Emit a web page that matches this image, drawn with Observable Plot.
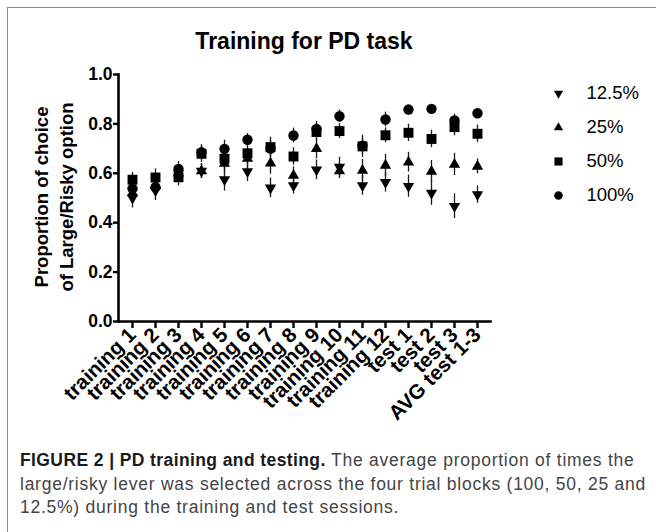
<!DOCTYPE html>
<html>
<head>
<meta charset="utf-8">
<script src="https://cdn.jsdelivr.net/npm/d3@7"></script>
<script src="https://cdn.jsdelivr.net/npm/@observablehq/plot@0.6"></script>
<style>
  html, body { margin: 0; padding: 0; background: #fff; }
  #fig { position: relative; width: 656px; height: 532px; background: #fff; overflow: hidden; font-family: "Liberation Sans", Arial, sans-serif; }
  #frame { position: absolute; left: 7px; top: 7px; right: -5px; bottom: -5px; border-left: 1.5px solid #8c8c8c; border-top: 1.5px solid #8c8c8c; }
  #title { position: absolute; left: 118px; width: 372px; top: 28px; text-align: center; font-weight: bold; font-size: 23px; color: #000; }
  #chart { position: absolute; left: 0; top: 0; }
  #legend { position: absolute; left: 540px; top: 75px; }
  #ylabel { position: absolute; left: -71px; top: 172px; width: 250px; height: 50px; transform: rotate(-90deg); text-align: center; font-weight: bold; font-size: 18.5px; line-height: 25px; color: #000; }
  #caption { position: absolute; left: 20px; top: 449px; width: 640px; font-size: 17.5px; letter-spacing: 0.75px; line-height: 23.5px; color: #444; white-space: nowrap; }
  #caption b { color: #1a1a1a; letter-spacing: 0.4px; }
</style>
</head>
<body>
<div id="fig">
  <div id="frame"></div>
  <div id="title">Training for PD task</div>
  <div id="chart"></div>
  <div id="ylabel">Proportion of choice<br>of Large/Risky option</div>
  <div id="legend"></div>
  <div id="caption"><b>FIGURE 2 | PD training and testing.</b> The average proportion of times the<br>large/risky lever was selected across the four trial blocks (100, 50, 25 and<br>12.5%) during the training and test sessions.</div>
</div>
<script>
const categories = ["training 1","training 2","training 3","training 4","training 5","training 6","training 7","training 8","training 9","training 10","training 11","training 12","test 1","test 2","test 3","AVG test 1-3"];
const seriesNames = ["12.5%","25%","50%","100%"];
const yTicks = [0, 0.2, 0.4, 0.6, 0.8, 1.0];

const mean12_5 = [0.50, 0.53, 0.60, 0.609, 0.575, 0.607, 0.541, 0.551, 0.614, 0.625, 0.551, 0.564, 0.548, 0.52, 0.467, 0.514];
const mean25   = [0.52, 0.55, 0.60, 0.609, 0.64, 0.66, 0.641, 0.591, 0.699, 0.609, 0.611, 0.632, 0.645, 0.607, 0.636, 0.628];
const mean50   = [0.574, 0.583, 0.584, 0.679, 0.659, 0.681, 0.706, 0.668, 0.767, 0.771, 0.709, 0.754, 0.764, 0.739, 0.787, 0.76];
const mean100  = [0.538, 0.544, 0.618, 0.685, 0.699, 0.736, 0.70, 0.753, 0.78, 0.831, 0.712, 0.818, 0.858, 0.861, 0.814, 0.843];

const err12_5 = [0.04, 0.04, 0.03, 0.03, 0.047, 0.04, 0.04, 0.035, 0.04, 0.04, 0.04, 0.04, 0.045, 0.05, 0.05, 0.035];
const err25   = [0.035, 0.035, 0.03, 0.03, 0.04, 0.04, 0.045, 0.035, 0.04, 0.03, 0.045, 0.045, 0.04, 0.045, 0.045, 0.03];
const err50   = [0.03, 0.035, 0.035, 0.035, 0.04, 0.035, 0.04, 0.035, 0.035, 0.03, 0.045, 0.03, 0.035, 0.035, 0.035, 0.035];
const err100  = [0.025, 0.03, 0.03, 0.03, 0.035, 0.025, 0.03, 0.03, 0.03, 0.025, 0.03, 0.03, 0.015, 0.015, 0.025, 0.02];

const seriesMeans = [mean12_5, mean25, mean50, mean100];
const seriesErrs = [err12_5, err25, err50, err100];
const symbols = ["triangle", "triangle", "square", "circle"];
const rotations = [180, 0, 0, 0];
const radii = [4.2, 4.2, 5.6, 5.2];

const rows = [];
seriesNames.forEach((s, si) => {
  categories.forEach((c, ci) => {
    rows.push({cat: c, series: s, si, value: seriesMeans[si][ci], err: seriesErrs[si][ci]});
  });
});

const font = "Liberation Sans, Arial, sans-serif";

const chart = Plot.plot({
  width: 656,
  height: 445,
  marginLeft: 118,
  marginRight: 166,
  marginTop: 74,
  marginBottom: 124,
  style: {fontFamily: font, fontWeight: "bold", color: "#000", background: "transparent", overflow: "visible"},
  x: {type: "point", domain: categories, padding: 0.56},
  y: {domain: [0, 1]},
  marks: [
    Plot.ruleX(rows, {x: "cat", y1: d => d.value - d.err, y2: d => d.value + d.err, stroke: "#1a1a1a", strokeWidth: 1.3}),
    ...seriesNames.map((s, si) => Plot.dot(rows.filter(d => d.si === si), {
      x: "cat", y: "value", symbol: symbols[si], r: radii[si], rotate: rotations[si], fill: "#000", stroke: "none"
    })),
    Plot.frame({anchor: "left", strokeWidth: 2.6, stroke: "#000"}),
    Plot.frame({anchor: "bottom", strokeWidth: 2.6, stroke: "#000"}),
    Plot.axisY({ticks: yTicks, tickFormat: d3.format(".1f"), tickSize: 5, tickPadding: 1, strokeWidth: 2.4, fontSize: 17.5, label: null}),
    Plot.axisX({tickSize: 7, tickPadding: 3, strokeWidth: 2.4, tickRotate: -45, fontSize: 20.5, label: null})
  ]
});
document.getElementById("chart").appendChild(chart);

const legendRows = seriesNames.map((s, si) => ({series: s, si}));
const legend = Plot.plot({
  width: 116,
  height: 140,
  marginLeft: 18,
  marginRight: 0,
  marginTop: 18,
  marginBottom: 20,
  style: {fontFamily: font, background: "transparent", overflow: "visible"},
  y: {type: "point", domain: seriesNames, padding: 0, axis: null},
  marks: [
    ...seriesNames.map((s, si) => Plot.dot(legendRows.filter(d => d.si === si), {
      y: "series", frameAnchor: "left", symbol: symbols[si], r: radii[si] * 0.82, rotate: rotations[si], fill: "#000", stroke: "none"
    })),
    Plot.text(legendRows, {y: "series", text: "series", frameAnchor: "left", dx: 28, textAnchor: "start", fontSize: 18.5, fill: "#000"})
  ]
});
document.getElementById("legend").appendChild(legend);
</script>
</body>
</html>
